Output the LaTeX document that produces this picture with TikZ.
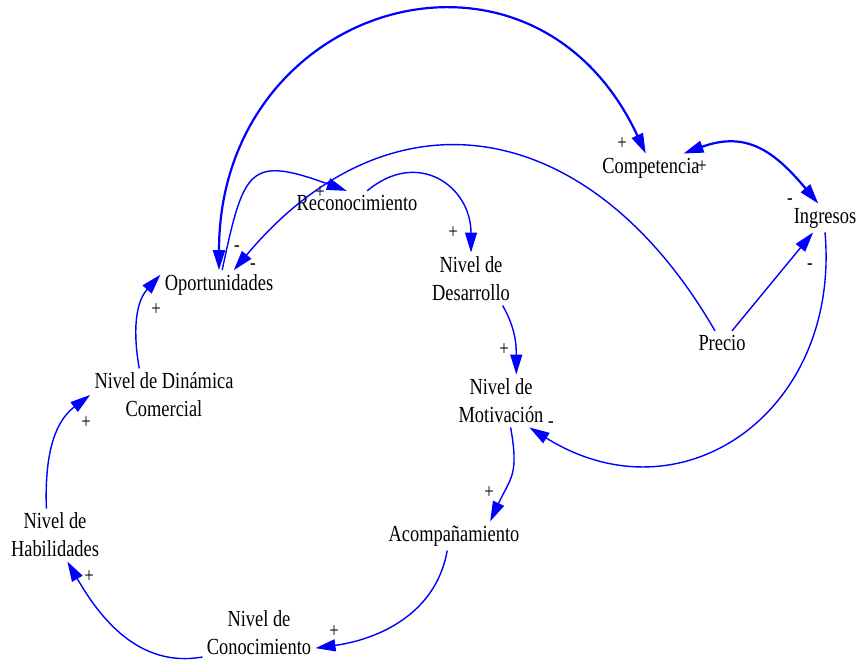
\documentclass[tikz,border=0pt]{standalone}
\usepackage{fontspec}
\setmainfont[FakeStretch=0.8]{Liberation Serif}
\usetikzlibrary{arrows.meta}

\begin{document}
\begin{tikzpicture}[x=0.5pt,y=0.5pt]

	\tikzstyle{var}=[inner sep=2pt, align=center, font=\fontsize{11.5}{14}\selectfont]
	\tikzstyle{sign}=[inner sep=0pt, font=\fontsize{10.5}{11}\selectfont]
	\tikzstyle{link}=[blue, line width=0.7pt, -{Triangle[length=10pt,width=6pt]}]
	\tikzstyle{twoway}=[blue, line width=1.1pt, {Triangle[length=10pt,width=6pt]}-{Triangle[length=10pt,width=6pt]}]

	\useasboundingbox (0,0) rectangle (862,-667);

	\node[var] (opo) at (219,-285) {Oportunidades};
	\node[var] (rec) at (357,-203) {Reconocimiento};
	\node[var] (comp) at (651,-168) {Competencia};
	\node[var] (ing) at (825,-218) {Ingresos};
	\node[var] (des) at (471,-279) {Nivel de\\Desarrollo};
	\node[var] (pre) at (722,-343) {Precio};
	\node[var] (mot) at (501,-401) {Nivel de\\Motivación};
	\node[var] (din) at (164,-395) {Nivel de Dinámica\\Comercial};
	\node[var] (aco) at (454,-536) {Acompañamiento};
	\node[var] (hab) at (55,-535) {Nivel de\\Habilidades};
	\node[var] (con) at (259,-633) {Nivel de\\Conocimiento};

	% big loop over the top (both ways)
	\draw[twoway] (opo.north) to[out=90,in=115,looseness=1.55] (comp.110);

	\draw[link] (opo) to[out=78,in=160,looseness=1.8] (rec.130);
	\draw[link] (pre.120) to[out=120,in=50,looseness=1.3] (opo.45);
	\draw[link] (rec.50) to[out=40,in=90,looseness=1.4] (des.north);
	\draw[link] (des.-40) to[out=-60,in=90] (mot.60);
	\draw[link] (ing.south) to[out=-85,in=-32,looseness=1.3] (mot.-43);
	\draw[link] (pre) -- (ing);
	\draw[twoway] (comp.24) to[out=20,in=130,looseness=1.2] (ing.115);

	% lower loop
	\draw[link] (mot.-70) to[out=-80,in=65,looseness=1.3] (aco.22);
	\draw[link] (aco.-115) to[out=-100,in=8] (con.-15);
	\draw[link] (con.-157) to[out=190,in=-60] (hab.-65);
	\draw[link] (hab.108) to[out=92,in=217] (din.west);
	\draw[link] (din.133) to[out=100,in=228] (opo.170);

	\node[sign] (s1) at (622,-144) {+};
	\node[sign] (s2) at (702,-167) {+};
	\node[sign] (s3) at (790,-202) {-};
	\node[sign] (s4) at (810,-267) {-};
	\node[sign] (s5) at (551,-425) {-};
	\node[sign] (s6) at (320,-193) {+};
	\node[sign] (s7) at (237,-249) {-};
	\node[sign] (s8) at (253,-267) {-};
	\node[sign] (s9) at (453,-233) {+};
	\node[sign] (s10) at (504,-350) {+};
	\node[sign] (s11) at (489,-493) {+};
	\node[sign] (s12) at (334,-632) {+};
	\node[sign] (s13) at (89,-577) {+};
	\node[sign] (s14) at (86,-423) {+};
	\node[sign] (s15) at (156,-310) {+};

\end{tikzpicture}
\end{document}
